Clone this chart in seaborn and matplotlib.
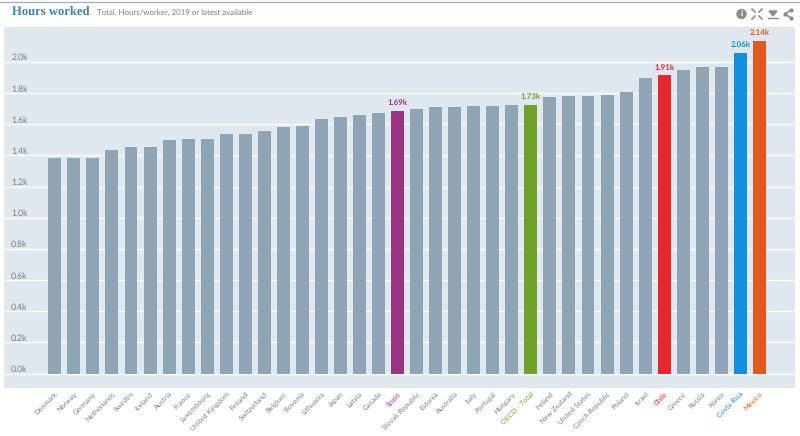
import pandas as pd
import matplotlib.pyplot as plt
import matplotlib.patches as mpatches
import seaborn as sns

countries = ["Denmark", "Norway", "Germany", "Netherlands", "Sweden", "Iceland", "Austria", "France",
             "Luxembourg", "United Kingdom", "Finland", "Switzerland", "Belgium", "Slovenia", "Lithuania",
             "Japan", "Latvia", "Canada", "Spain", "Slovak Republic", "Estonia", "Australia", "Italy",
             "Portugal", "Hungary", "OECD - Total", "Ireland", "New Zealand", "United States",
             "Czech Republic", "Poland", "Israel", "Chile", "Greece", "Russia", "Korea", "Costa Rica", "Mexico"]
hours = [1380, 1384, 1386, 1434, 1452, 1454, 1501, 1505,
         1506, 1538, 1540, 1557, 1583, 1590, 1635,
         1644, 1661, 1670, 1686, 1695, 1711, 1712, 1718,
         1719, 1725, 1726, 1772, 1779, 1779,
         1788, 1806, 1898, 1914, 1949, 1965, 1967, 2060, 2137]
highlight = {"Spain": "#993484", "OECD - Total": "#71a129", "Chile": "#e8262d",
             "Costa Rica": "#1290dd", "Mexico": "#e3581e"}
yticks = [0, 200, 400, 600, 800, 1000, 1200, 1400, 1600, 1800, 2000]
BAR = "#8fa5b5"
GREY = "#7d7d7d"

plt.rcParams["font.family"] = ["Lato", "DejaVu Sans"]
plt.rcParams["text.hinting"] = "no_hinting"

df = pd.DataFrame({"country": countries, "hours": hours})
palette = {c: highlight.get(c, BAR) for c in countries}

fig = plt.figure(figsize=(8, 4.36), dpi=100, facecolor="white")
ax = fig.add_axes([4 / 800, 1 - 388 / 436, 791 / 800, 361 / 436], facecolor="#dfe8ef")

sns.barplot(data=df, x="country", y="hours", hue="country", palette=palette, legend=False,
            width=0.68, saturation=1, ax=ax, zorder=3)

ax.set_xlim(-2.67, 38.87)
ax.set_ylim(-93, 2224)
ax.set_xlabel("")
ax.set_ylabel("")
for s in ax.spines.values():
    s.set_visible(False)

ax.set_yticks(yticks)
ax.set_yticklabels([f"{v / 1000:.1f}k" for v in yticks], fontsize=6.2, color=GREY, va="bottom")
ax.tick_params(axis="y", length=0, pad=-17)
ax.grid(axis="y", color="white", linewidth=1)
ax.set_axisbelow(True)

ax.set_xticks(range(len(countries)))
ax.set_xticklabels(countries, rotation=45, ha="right", rotation_mode="anchor", fontsize=5.2)
ax.tick_params(axis="x", length=0, pad=2)
for lab in ax.get_xticklabels():
    lab.set_color(highlight.get(lab.get_text(), GREY))

# value labels only on the highlighted bars
for i, (c, v) in enumerate(zip(countries, hours)):
    if c in highlight:
        ax.text(i, v + 22, f"{v / 1000:.2f}k", ha="center", va="bottom", fontsize=5.8,
                fontweight="bold", color=highlight[c])

# header
fig.text(12 / 800, 1 - 12 / 436, "Hours worked", fontsize=9.1, family="Liberation Serif", fontweight="bold",
         color="#3a86ae", va="center")
fig.text(97 / 800, 1 - 13 / 436, "Total, Hours/worker, 2019 or latest available", fontsize=5.7,
         color=GREY, va="center")
fig.add_artist(plt.Line2D([0, 1], [1 - 2 / 436, 1 - 2 / 436], color="#9fb6c8", linewidth=1))

# toolbar icons
px = lambda x, y: (x / 800, 1 - y / 436)
fig.add_artist(mpatches.Ellipse(px(741.5, 14), 9 / 800, 9 / 436, color="#8c8c8c"))
fig.text(741.5 / 800, 1 - 14 / 436, "i", fontsize=6, fontweight="bold", color="white", ha="center", va="center")
for dx, dy in [(-1, -1), (1, -1), (-1, 1), (1, 1)]:
    x0, y0 = px(757 + dx * 5, 14 + dy * 5)
    x1, y1 = px(757 + dx * 2, 14 + dy * 2)
    fig.add_artist(plt.Line2D([x0, x1], [y0, y1], color="#8c8c8c", linewidth=1.2))
fig.add_artist(mpatches.Polygon([px(769, 11), px(777, 11), px(773, 16)], color="#8c8c8c"))
fig.add_artist(plt.Line2D([768 / 800, 778 / 800], [1 - 18 / 436] * 2, color="#8c8c8c", linewidth=1))
fig.add_artist(plt.Line2D([px(791, 10)[0], px(785, 14)[0], px(791, 18)[0]],
                          [px(791, 10)[1], px(785, 14)[1], px(791, 18)[1]],
                          color="#8c8c8c", linewidth=1.2, marker="o", markersize=2))

fig.savefig("out.png", dpi=100)
